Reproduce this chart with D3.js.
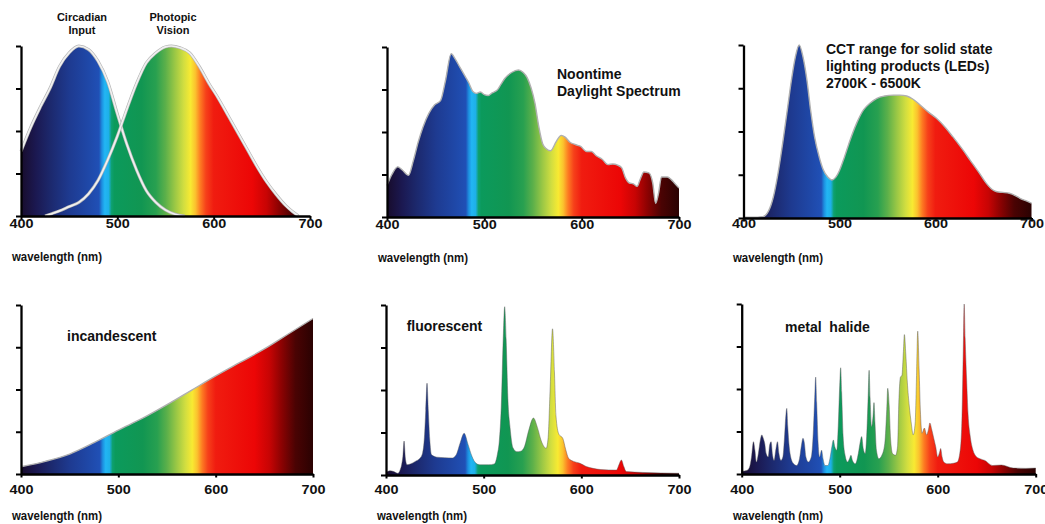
<!DOCTYPE html>
<html><head><meta charset="utf-8">
<script src="https://cdn.jsdelivr.net/npm/d3@7"></script>
<style>
body{margin:0;background:#fff;}
svg text{font-family:"Liberation Sans",Arial,sans-serif;font-weight:bold;fill:#111;}
</style></head><body>
<svg id="c" width="1045" height="524"></svg>
<script>
// ---------- data (wavelength nm, relative intensity 0-100) ----------
const wavelengthTicks = [400, 500, 600, 700];
const intensityTicks = [0, 25, 50, 75, 100];

const circadian = [[400,38],[410,52],[420,64],[430,75],[440,88],[450,96],[460,100],[470,98],[480,91],[490,79],[500,60],[510,42],[520,27],[530,15],[540,8],[550,3.5],[560,1],[570,0]];
const photopic = [[425,0],[430,1],[440,3],[450,5.5],[460,8],[470,13],[480,21],[490,33],[500,47],[510,63],[520,78],[530,90],[540,96],[550,99.5],[556,100],[565,99],[575,96],[585,88],[595,78],[605,69],[615,59],[625,49],[635,39],[645,29],[655,20],[665,12.5],[675,6],[682,2.5],[688,0]];

const daylight = [[400,18.5],[405,25],[411,29.5],[416,27.5],[422,24.5],[427,33],[432,44],[437,53],[443,61],[449,66],[455,68.5],[460,80],[466,96],[470,93],[475,88],[480,83],[484,79],[488,74],[492,72.7],[496,73.5],[500,72],[504,71.5],[508,73],[513,74.5],[517,78],[521,81.5],[528,85],[535,86.5],[540,85],[544,82],[548,76],[552,67],[556,53],[560,43],[564,40],[568,39],[574,44.5],[579,48],[583,47],[588,44],[594,42.5],[599,41.5],[605,38.5],[610,38.5],[615,36],[621,34],[627,30.8],[632,31.2],[637,30.5],[641,29],[645,23],[649,20],[653,19.5],[657,18],[660,22],[664,26.5],[669,26],[673,20],[676,8],[679,14],[682,23.5],[688,23.5],[692,22],[696,19.5],[700,17]];

const led = [[400,0.5],[410,0.5],[420,0.8],[426,4],[431,12],[436,26],[441,44],[446,64],[450,80],[454,93],[458,100],[462,93],[466,80],[470,62],[474,47],[479,35],[483,28],[488,23.5],[492,22],[496,23.5],[500,27.5],[505,35],[511,45],[518,55],[525,62.5],[532,66.5],[539,69.2],[547,70.5],[556,71],[563,71],[570,70.5],[577,68.5],[584,65.3],[592,61.5],[601,57.6],[610,52.5],[618,47],[627,40.5],[636,33.5],[645,26.5],[653,20],[659,16.5],[664,15.2],[670,14.8],[677,14.3],[683,13],[688,11.4],[694,10],[700,8.5]];

const incandescent = [[400,4.3],[425,7.5],[450,11.8],[475,18.5],[500,26],[525,33],[550,41],[575,49.5],[600,58],[625,66],[650,74],[675,83],[700,92]];

const fluorescent = [[400,1.5],[404,2.5],[408,2],[412,1],[414.5,3],[416,6],[417.3,11],[418.5,20],[419.8,10],[421.5,6],[425,6.5],[430,8],[435,10],[437.5,13],[439.3,22],[440.7,38],[442,54],[443.3,38],[444.8,21],[446.5,12],[452,10.5],[460,10.2],[468,10],[472,12],[476,19],[480,24.5],[484,18],[488,11],[492,7],[496,6],[505,6],[511,6.5],[514,12],[516,20],[518,40],[520,80],[521.5,99],[523,80],[524.8,45],[527,28],[530,16],[534,13.7],[538,14],[542,17],[546,26],[551,33.5],[555,28],[559,20],[564,15.7],[566,22],[568,50],[570.5,86],[572.5,60],[574,35],[577,24],[581,21.6],[584,15],[587,9.8],[592,8],[598.6,6.9],[605,5],[612,3.9],[620,3.2],[636,2.9],[638.5,6],[641,8.8],[643.5,5],[646,2],[663,1.5],[700,1]];

const metalHalide = [[400,1.5],[405,2],[408,4],[410,10],[412,19],[413.5,14],[415,7],[417,12],[419,20],[420.5,23],[422,21],[423.5,18],[425,12],[427,10],[428.5,17],[430,19],[431.5,11],[433,8],[435,15],[436.5,19],[438,12],[440,8],[442,10],[443.5,20],[445,34],[446,38.6],[447,28],[448.5,16],[450,10],[453,6],[456,5],[459,9],[461,17],[462.5,21],[464,18],[465.5,10],[468,7],[471,10],[473,24],[474.5,45],[475.5,57],[476.5,42],[478,18],[479.5,10],[481.5,14],[483,9],[485,5],[488,5],[490,9],[492,16],[493.5,20],[495,16],[497,14],[498.5,28],[500,52],[501,62.5],[502,48],[503.5,22],[505.5,11],[508,7],[510,9],[511.5,11],[513,8],[516,6],[519,12],[521,19],[522.4,22],[524,15],[526,12],[527.5,22],[529,45],[530,61],[531,45],[532.5,28],[534,34],[535,42],[536,30],[537.5,14],[540,9],[543,11],[546,18],[548,38],[549,50.4],[550.5,40],[552,20],[554,12],[557,11],[559,16],[560.5,45],[562,57],[563.5,58],[565,72],[566,82],[567.5,70],[569,54],[571,40],[573,30],[575,23],[577,30],[578.5,60],[579.6,84],[581,62],[582.5,35],[584,24],[586.4,27],[588.7,23],[590.5,26],[592,30],[594,26],[596,21],[598,16],[600,10],[602,13],[603,15],[604.5,10],[606,7.2],[610,6],[616,6.3],[620,7],[622.5,12],[624.5,28],[626,70],[627,100],[628,80],[629.5,56],[631,35],[633,23],[636,14],[639,10.5],[643,9],[648,8],[656,5],[665,5.3],[677,3.5],[690,3.3],[700,3.5]];

// ---------- styles ----------
const spectrumStops = [[400,'#180c2c'],[415,'#1b1850'],[430,'#1c286c'],[450,'#1e3a90'],[470,'#1f48a8'],[481,'#2050b6'],[484,'#1d8fe0'],[487,'#22b6f4'],[491,'#1eb0e8'],[494,'#0ea070'],[497,'#0b9a5c'],[525,'#119652'],[540,'#28a050'],[550,'#5cb04a'],[560,'#9cc845'],[569,'#d2de40'],[576,'#f8ea32'],[581,'#fbc22e'],[586,'#fd7c22'],[592,'#f6401a'],[600,'#f01c10'],[640,'#ec0606'],[655,'#c80404'],[668,'#8a0202'],[682,'#4a0303'],[700,'#2a0202']];

const panels = [
  {series:[circadian, photopic], x0:21, x1:310, yTop:46, yBot:216, tickBase:228, labX:12, labBase:260.5, edge:'curves',
   notes:[{x:82,y:20.7,t:'Circadian',a:'middle',s:11},{x:82,y:34.3,t:'Input',a:'middle',s:11},{x:173,y:20.7,t:'Photopic',a:'middle',s:11},{x:173,y:34.3,t:'Vision',a:'middle',s:11}]},
  {series:[daylight], x0:387, x1:679, yTop:47, yBot:217, tickBase:228.5, labX:378, labBase:261.5, edge:'soft',
   notes:[{x:557,y:78.5,t:'Noontime'},{x:557,y:95.5,t:'Daylight Spectrum'}]},
  {series:[led], x0:743.5, x1:1031.5, yTop:45, yBot:218, tickBase:228, labX:733, labBase:261.5, edge:'soft',
   notes:[{x:826,y:53.5,t:'CCT range for solid state'},{x:826,y:70.7,t:'lighting products (LEDs)'},{x:826,y:87.5,t:'2700K - 6500K'}]},
  {series:[incandescent], x0:21, x1:313, yTop:305, yBot:474, tickBase:494, labX:12, labBase:520, edge:'soft',
   notes:[{x:67,y:340.5,t:'incandescent'}]},
  {series:[fluorescent], x0:386, x1:679, yTop:305, yBot:475, tickBase:493.5, labX:377, labBase:519.5, edge:'dark',
   notes:[{x:406.7,y:330.7,t:'fluorescent'}]},
  {series:[metalHalide], x0:741.7, x1:1035.7, yTop:304, yBot:474, tickBase:493.5, labX:733, labBase:520, edge:'dark',
   notes:[{x:785,y:331.5,t:'metal  halide'}]}
];

const svg = d3.select('#c');
const defs = svg.append('defs');

panels.forEach((p, i) => {
  const x = d3.scaleLinear().domain([400, 700]).range([p.x0, p.x1]);
  const y = d3.scaleLinear().domain([0, 100]).range([p.yBot, p.yTop]);
  const g = svg.append('g');

  const gid = 'spec' + i;
  const grad = defs.append('linearGradient').attr('id', gid)
    .attr('gradientUnits', 'userSpaceOnUse')
    .attr('x1', x(400)).attr('x2', x(700)).attr('y1', 0).attr('y2', 0);
  grad.selectAll('stop').data(spectrumStops).join('stop')
    .attr('offset', d => (d[0] - 400) / 300)
    .attr('stop-color', d => d[1]);

  const area = d3.area().x(d => x(d[0])).y0(p.yBot).y1(d => y(d[1])).curve(d3.curveMonotoneX);
  const line = d3.line().x(d => x(d[0])).y(d => y(d[1])).curve(d3.curveMonotoneX);

  p.series.forEach(s => {
    g.append('path').datum(s).attr('d', area).attr('fill', `url(#${gid})`);
  });
  p.series.forEach(s => {
    if (p.edge === 'curves') {
      g.append('path').datum(s).attr('d', line).attr('fill', 'none').attr('stroke', '#b4b4b4').attr('stroke-width', 3);
      g.append('path').datum(s).attr('d', line).attr('fill', 'none').attr('stroke', '#f0f0f0').attr('stroke-width', 1.7);
    } else if (p.edge === 'soft') {
      g.append('path').datum(s).attr('d', line).attr('fill', 'none').attr('stroke', '#b0b0b0').attr('stroke-width', 1.4);
    } else {
      g.append('path').datum(s).attr('d', line).attr('fill', 'none').attr('stroke', '#555').attr('stroke-width', 0.8).attr('stroke-opacity', 0.55);
    }
  });

  // axes
  const yAxis = d3.axisLeft(y).tickValues(intensityTicks).tickSize(5).tickSizeOuter(0).tickFormat('');
  const ya = g.append('g').attr('transform', `translate(${p.x0},0)`).call(yAxis);
  const xAxis = d3.axisBottom(x).tickValues(wavelengthTicks).tickSize(3.5).tickSizeOuter(0).tickFormat(d3.format('d'));
  const xa = g.append('g').attr('transform', `translate(0,${p.yBot})`).call(xAxis);
  [ya, xa].forEach(a => {
    a.select('.domain').attr('stroke', '#000').attr('stroke-width', 2.3);
    a.selectAll('.tick line').attr('stroke', '#000').attr('stroke-width', 2);
  });
  xa.selectAll('.tick text')
    .attr('y', p.tickBase - p.yBot).attr('dy', 0)
    .attr('font-size', 12).attr('fill', '#111')
    .attr('font-family', '"Liberation Sans",Arial,sans-serif').attr('font-weight', 'bold')
    .attr('textLength', 24).attr('lengthAdjust', 'spacingAndGlyphs');

  g.append('text').attr('x', p.labX).attr('y', p.labBase).attr('font-size', 13)
    .attr('textLength', 90).attr('lengthAdjust', 'spacingAndGlyphs').text('wavelength (nm)');

  p.notes.forEach(n => {
    g.append('text').attr('x', n.x).attr('y', n.y).attr('font-size', n.s || 14)
      .attr('text-anchor', n.a || 'start').style('white-space', 'pre').text(n.t);
  });
});
</script>
</body></html>
